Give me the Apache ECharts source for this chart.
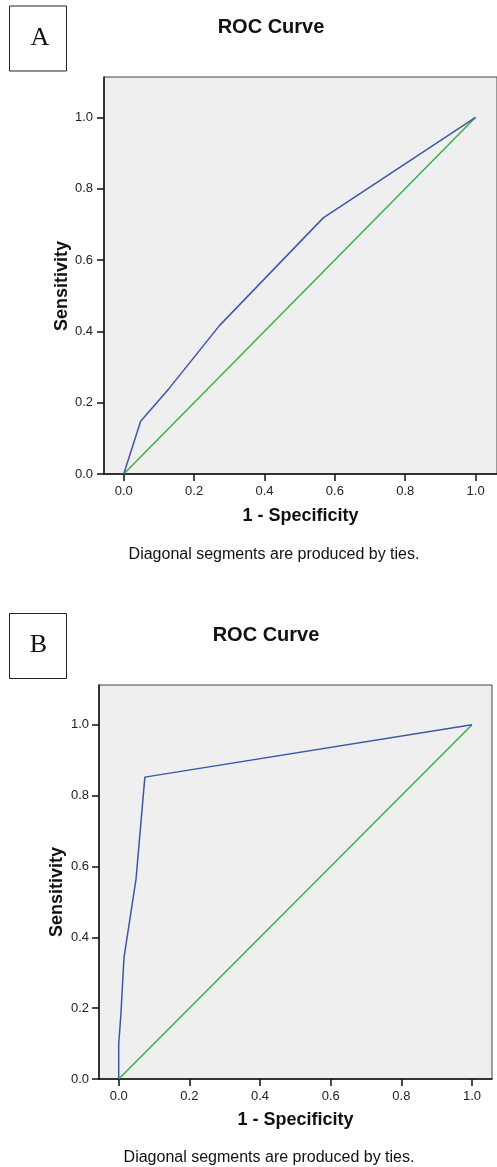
<!DOCTYPE html>
<html>
<head>
<meta charset="utf-8">
<title>ROC Curves</title>
<script src="https://cdn.jsdelivr.net/npm/echarts@6/dist/echarts.min.js"></script>
<style>
  html, body { margin: 0; padding: 0; background: #fff; }
  #charts { width: 497px; height: 1167px; }
</style>
</head>
<body>
<div id="charts"></div>
<script>
// panel A: 1 - specificity / sensitivity
var fprA = [0, 0.048, 0.129, 0.272, 0.567, 1];
var tprA = [0, 0.148, 0.24, 0.416, 0.718, 1];
// panel B
var fprB = [0, 0, 0.006, 0.015, 0.049, 0.074, 1];
var tprB = [0, 0.099, 0.18, 0.343, 0.564, 0.852, 1];
// reference (chance) line
var refLine = [0, 1];
var tickVals = [0, 0.2, 0.4, 0.6, 0.8, 1.0];

var fontSans = 'Liberation Sans, Arial, sans-serif';
var blue = '#3d56a8';
var green = '#35b24a';

function pairs(xs, ys) {
    var out = [];
    for (var i = 0; i < xs.length; i++) out.push([xs[i], ys[i]]);
    return out;
}

function xAxisFor(gi, min, max, gap) {
    return {
        type: 'value', gridIndex: gi, min: min, max: max,
        name: '1 - Specificity', nameLocation: 'middle', nameGap: gap,
        nameTextStyle: { fontFamily: fontSans, fontSize: 18, fontWeight: 'bold', color: '#111' },
        axisLine: { show: true, onZero: false, lineStyle: { color: '#111', width: 1.5 } },
        axisTick: { show: true, length: 7, inside: false, customValues: tickVals, lineStyle: { color: '#111', width: 1.5 } },
        axisLabel: { customValues: tickVals, margin: 11, fontFamily: fontSans, fontSize: 13, color: '#222',
            formatter: function (v) { return v.toFixed(1); } },
        splitLine: { show: false }
    };
}

function yAxisFor(gi, max, margin) {
    return {
        type: 'value', gridIndex: gi, min: 0, max: max,
        axisLine: { show: true, onZero: false, lineStyle: { color: '#111', width: 1.5 } },
        axisTick: { show: true, length: 7, inside: false, customValues: tickVals, lineStyle: { color: '#111', width: 1.5 } },
        axisLabel: { customValues: tickVals, margin: margin, fontFamily: fontSans, fontSize: 13, color: '#222',
            formatter: function (v) { return v.toFixed(1); } },
        splitLine: { show: false }
    };
}

function lineSeries(gi, data, color) {
    return {
        type: 'line', xAxisIndex: gi, yAxisIndex: gi, data: data,
        showSymbol: false, symbol: 'none', animation: false, silent: true,
        lineStyle: { color: color, width: 1.5 }
    };
}

function txt(x, y, text, size, weight, family, rot) {
    return {
        type: 'text', x: x, y: y, rotation: rot || 0,
        style: { text: text, fontSize: size, fontWeight: weight, fontFamily: family,
            fill: '#111', align: 'center', verticalAlign: 'middle' }
    };
}

function box(x, y, w, h) {
    return { type: 'rect', shape: { x: x, y: y, width: w, height: h },
        style: { fill: '#fff', stroke: '#222', lineWidth: 1 } };
}

var myChart = echarts.init(document.getElementById('charts'));
var option = {
    backgroundColor: '#fff',
    animation: false,
    grid: [
        { left: 104, top: 77, width: 398, height: 397, show: true, backgroundColor: '#efefef', borderColor: '#444', borderWidth: 1 },
        { left: 99, top: 685, width: 393, height: 394, show: true, backgroundColor: '#efefef', borderColor: '#444', borderWidth: 1 }
    ],
    xAxis: [
        xAxisFor(0, -0.0561, 1.0609, 33),
        xAxisFor(1, -0.0558, 1.0566, 32)
    ],
    yAxis: [
        yAxisFor(0, 1.113, 11),
        yAxisFor(1, 1.112, 10)
    ],
    series: [
        lineSeries(0, pairs(refLine, refLine), green),
        lineSeries(0, pairs(fprA, tprA), blue),
        lineSeries(1, pairs(refLine, refLine), green),
        lineSeries(1, pairs(fprB, tprB), blue)
    ],
    graphic: [
        box(9.5, 6, 57, 65),
        txt(40, 38, 'A', 26, 'normal', 'Liberation Serif, Times New Roman, serif'),
        txt(271, 27, 'ROC Curve', 20, 'bold', fontSans),
        txt(62, 286, 'Sensitivity', 18, 'bold', fontSans, Math.PI / 2),
        txt(274, 555, 'Diagonal segments are produced by ties.', 16, 'normal', fontSans),

        box(9.5, 613.5, 57, 65),
        txt(38.5, 645, 'B', 26, 'normal', 'Liberation Serif, Times New Roman, serif'),
        txt(266, 635, 'ROC Curve', 20, 'bold', fontSans),
        txt(57.5, 892, 'Sensitivity', 18, 'bold', fontSans, Math.PI / 2),
        txt(269, 1158, 'Diagonal segments are produced by ties.', 16, 'normal', fontSans)
    ]
};
myChart.setOption(option);
</script>
</body>
</html>
